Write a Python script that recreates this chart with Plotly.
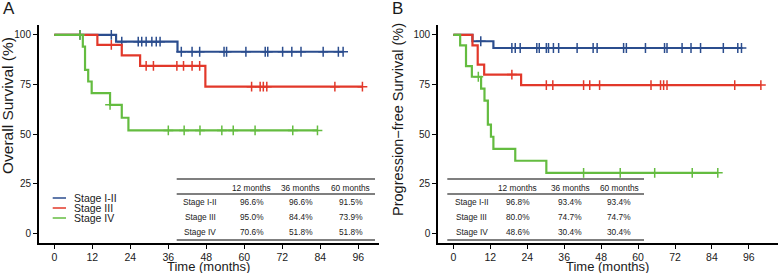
import numpy as np
import plotly.graph_objects as go

W, H = 778, 273
FONT = "Liberation Sans, Arial, sans-serif"

groups = ["Stage I-II", "Stage III", "Stage IV"]
stage_colors = ["#2B4D8E", "#E2382A", "#64BC40"]

# ---- Panel A: Overall survival ----
os_times = [
    [0, 19.5, 38.9],
    [0, 13.6, 21.3, 27.1, 47.7],
    [0, 9.0, 9.7, 10.7, 11.8, 17.6, 21.3, 23.4],
]
os_surv = [
    [100, 96.6, 91.5],
    [100, 95.0, 89.7, 84.4, 73.9],
    [100, 94.1, 82.4, 76.5, 70.6, 64.7, 58.2, 51.8],
]
os_censor = [
    [8.1, 18.0, 21.3, 26.5, 27.6, 29.0, 30.8, 32.2, 33.4, 40.1, 43.5, 45.9, 53.6, 54.4,
     60.5, 66.6, 67.4, 72.1, 75.0, 77.9, 84.9, 89.7, 91.2],
    [18.0, 29.0, 31.3, 38.7, 40.8, 43.5, 45.9, 62.3, 65.0, 66.0, 67.1, 88.6, 97.3],
    [8.1, 17.6, 36.0, 41.0, 46.0, 52.9, 56.5, 63.4, 75.3, 83.1],
]

# ---- Panel B: Progression-free survival ----
pfs_times = [
    [0, 6.2, 13.0],
    [0, 6.2, 7.9, 10.0, 22.0],
    [0, 2.2, 4.1, 6.0, 9.0, 10.1, 11.2, 12.2, 13.0, 20.1, 30.2],
]
pfs_surv = [
    [100, 96.8, 93.4],
    [100, 94.7, 85.0, 80.0, 74.7],
    [100, 94.7, 84.2, 78.9, 72.9, 66.8, 54.7, 48.6, 42.5, 36.5, 30.4],
]
pfs_censor = [
    [8.9, 19.0, 20.1, 21.7, 27.1, 27.9, 30.2, 30.9, 32.5, 34.2, 40.2, 45.4, 46.7, 55.3,
     56.2, 62.4, 68.6, 69.4, 74.3, 77.2, 80.3, 87.7, 92.4, 93.6],
    [19.0, 30.2, 32.3, 42.3, 44.3, 47.5, 64.2, 67.3, 68.3, 69.4, 91.4, 99.9],
    [8.1, 42.3, 54.2, 65.4, 77.6, 85.9],
]

# ---- Tables ----
table_cols = ["12 months", "36 months", "60 months"]
os_table = [["96.6%", "96.6%", "91.5%"], ["95.0%", "84.4%", "73.9%"], ["70.6%", "51.8%", "51.8%"]]
pfs_table = [["96.8%", "93.4%", "93.4%"], ["80.0%", "74.7%", "74.7%"], ["48.6%", "30.4%", "30.4%"]]

x_ticks = list(range(0, 97, 12))
y_ticks = [0, 25, 50, 75, 100]

def px(x):
    return x / W

def py(y):
    return 1 - y / H

fig = go.Figure()

def add_km(times, surv, cens, xa, ya):
    for g in range(3):
        t = np.array(times[g], float)
        s = np.array(surv[g], float)
        c = np.array(cens[g], float)
        end = max(t.max(), c.max())
        fig.add_trace(go.Scatter(
            x=list(t) + [end], y=list(s) + [s[-1]], mode="lines",
            line=dict(color=stage_colors[g], width=2.2, shape="hv"),
            xaxis=xa, yaxis=ya, showlegend=False, hoverinfo="skip"))
        idx = np.searchsorted(t, c, side="right") - 1
        fig.add_trace(go.Scatter(
            x=c, y=s[idx], mode="markers",
            marker=dict(symbol="cross-thin", size=7,
                        line=dict(color=stage_colors[g], width=1.5)),
            xaxis=xa, yaxis=ya, showlegend=False, hoverinfo="skip"))

add_km(os_times, os_surv, os_censor, "x", "y")
add_km(pfs_times, pfs_surv, pfs_censor, "x2", "y2")

ydom = [py(243), py(25)]
xcommon = dict(tickvals=x_ticks, showline=True, linecolor="black", linewidth=1.6,
               ticks="outside", ticklen=4, tickwidth=1.2, tickcolor="black",
               showgrid=False, zeroline=False,
               tickfont=dict(family=FONT, size=10.5, color="#1a1a1a"))
ycommon = dict(tickvals=y_ticks, range=[-5, 105], domain=ydom, showline=True,
               linecolor="black", linewidth=1.6, ticks="outside", ticklen=4,
               tickwidth=1.2, tickcolor="black", showgrid=False, zeroline=False,
               tickfont=dict(family=FONT, size=10, color="#1a1a1a"))

fig.update_layout(
    width=W, height=H, autosize=False,
    margin=dict(l=0, r=0, t=0, b=0),
    paper_bgcolor="white", plot_bgcolor="white",
    xaxis=dict(domain=[px(38.8), px(378.9)], range=[-4.9, 102.5], anchor="y", **xcommon),
    yaxis=dict(anchor="x", **ycommon),
    xaxis2=dict(domain=[px(438), px(777.5)], range=[-5.0, 105.3], anchor="y2", **xcommon),
    yaxis2=dict(anchor="x2", **ycommon),
)

ann = []
shapes = []

def text(x, y, s, size, xanchor="center", rot=0, color="#1a1a1a"):
    ann.append(dict(x=px(x), y=py(y), xref="paper", yref="paper", text=s, showarrow=False,
                    xanchor=xanchor, yanchor="middle", textangle=rot, borderpad=0,
                    font=dict(family=FONT, size=size, color=color)))

# panel letters
text(2, 9, "A", 17, xanchor="left")
text(391, 9, "B", 17, xanchor="left")

# axis titles
text(8, 106, "Overall Survival (%)", 15.5, rot=-90)
text(398, 119, "Progression\u2212free Survival (%)", 14.5, rot=-90)
text(208.9, 266, "Time (months)", 13)
text(607.7, 266, "Time (months)", 13)

# legend (panel A)
leg_y = [198, 208, 218]
for g in range(3):
    shapes.append(dict(type="line", xref="paper", yref="paper",
                       x0=px(52.7), x1=px(66), y0=py(leg_y[g]), y1=py(leg_y[g]),
                       line=dict(color=stage_colors[g], width=1.5)))
    text(73, leg_y[g], groups[g], 10.5, xanchor="left")

def draw_table(x0, x1, col_x, rows):
    for yy in (179, 194, 240):
        shapes.append(dict(type="line", xref="paper", yref="paper",
                           x0=px(x0), x1=px(x1), y0=py(yy), y1=py(yy),
                           line=dict(color="#555555", width=1.3)))
    for j, c in enumerate(table_cols):
        text(col_x[j + 1], 187.5, c, 8.3)
    row_y = [202.3, 217.5, 232.3]
    for i in range(3):
        text(col_x[0], row_y[i], groups[i], 8.3)
        for j in range(3):
            text(col_x[j + 1], row_y[i], rows[i][j], 8.3)

draw_table(176.7, 375, [200, 251.7, 300.5, 350.5], os_table)
draw_table(447.3, 644, [471.7, 517.7, 570, 619.3], pfs_table)

fig.update_layout(annotations=ann, shapes=shapes)
fig.write_html("out.html", config={"displayModeBar": False},
               post_script="document.body.style.margin='0';document.body.style.overflow='hidden';")
